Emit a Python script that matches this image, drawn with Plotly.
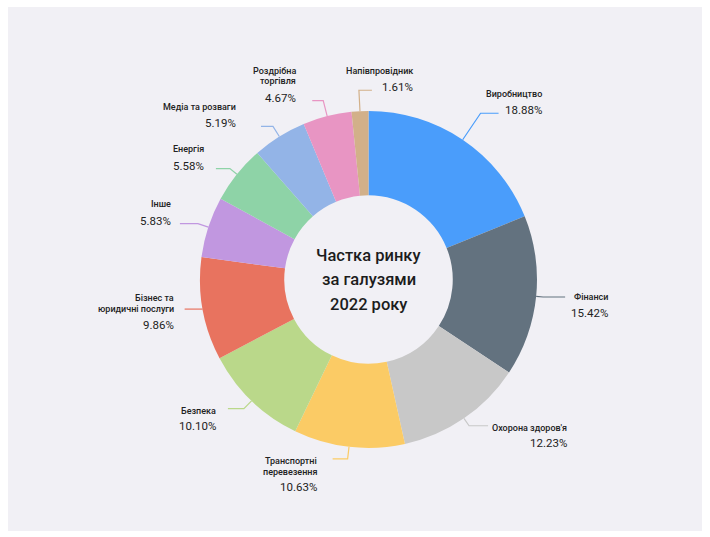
import math
import plotly.graph_objects as go

# ---- data ----
categories = [["Виробництво"], ["Фінанси"], ["Охорона здоров'я"], ["Транспортні", "перевезення"],
              ["Безпека"], ["Бізнес та", "юридичні послуги"], ["Інше"], ["Енергія"],
              ["Медіа та розваги"], ["Роздрібна", "торгівля"], ["Напівпровідник"]]
values = [18.88, 15.42, 12.23, 10.63, 10.10, 9.86, 5.83, 5.58, 5.19, 4.67, 1.61]
value_labels = ["18.88%", "15.42%", "12.23%", "10.63%", "10.10%", "9.86%",
                "5.83%", "5.58%", "5.19%", "4.67%", "1.61%"]
colors = ["#4A9DFB", "#63727F", "#C8C8C8", "#FBCB65", "#BAD88A", "#E8735F",
          "#C197E0", "#8ED3A7", "#93B4E7", "#E895C3", "#D2B089"]
center_title = ["Частка ринку", "за галузями", "2022 року"]

# ---- layout settings (pixels) ----
W, H = 710, 537
CX, CY, R = 368.5, 279.5, 168.5
HOLE = 0.5
FONT = "Roboto"
NAME_SIZE, PCT_SIZE = 9, 11.5
# per-label leader: radial extension, horizontal length, direction (+1 right / -1 left), text gap
leader = [(32, 18, 1, 8), (7, 22, 1, 10), (9, 19, 1, 9), (12, 15, -1, 14), (11, 16, -1, 10),
          (0, 18, -1, 9), (11, 18, -1, 7), (9, 14, -1, 10), (12, 12, -1, 23), (16, 11, -1, 14),
          (21, 13, 1, 12)]


def px(x):
    return x / W


def py(y):
    return 1 - y / H


def est_width(text, size):
    w = 0.0
    for ch in text:
        if ch.isdigit():
            w += 0.562
        elif ch == ".":
            w += 0.27
        elif ch == "%":
            w += 0.73
        elif ch == " ":
            w += 0.25
        elif ch in "'’":
            w += 0.2
        elif ch.isupper():
            w += 0.64
        else:
            w += 0.53
    return w * size


fig = go.Figure()
fig.add_trace(go.Pie(
    values=values, labels=[" ".join(c) for c in categories], hole=HOLE, sort=False,
    direction="clockwise", rotation=0, marker=dict(colors=colors, line=dict(width=0)),
    textinfo="none", hoverinfo="label+percent", showlegend=False,
    domain=dict(x=[px(CX - R), px(CX + R)], y=[py(CY + R), py(CY - R)]),
))

shapes = [dict(type="rect", xref="paper", yref="paper", x0=px(8), x1=px(702),
               y0=py(531), y1=py(7), fillcolor="#F1F0F5", line=dict(width=0), layer="below")]
annotations = []


def add_text(x, y, text, size, anchor, weight=400, color="#222222"):
    annotations.append(dict(x=px(x), y=py(y), xref="paper", yref="paper", text=text,
                            showarrow=False, xanchor=anchor, yanchor="middle",
                            font=dict(family=FONT, size=size, color=color, weight=weight)))


total = sum(values)
cum = 0.0
for i, v in enumerate(values):
    mid = (cum + v / 2) / total * 2 * math.pi
    cum += v
    s, c = math.sin(mid), math.cos(mid)
    x0, y0 = CX + R * s, CY - R * c
    ext, hl, d, gap = leader[i]
    x1, y1 = CX + (R + ext) * s, CY - (R + ext) * c
    x2 = x1 + d * hl
    shapes.append(dict(type="path", xref="paper", yref="paper",
                       path=f"M {px(x0)},{py(y0)} L {px(x1)},{py(y1)} L {px(x2)},{py(y1)}",
                       line=dict(color=colors[i], width=1.2)))
    names = categories[i]
    n = len(names)
    # vertical positions of each text line
    if y1 < CY - 40:      # upper: percentage at leader level, names above
        pct_y = y1 - 3
        name_ys = [pct_y - 16.5 - 10.5 * (n - 1 - k) for k in range(n)]
        level_text = value_labels[i]
        level_size = PCT_SIZE
    elif y1 > CY + 40:    # lower: first name at leader level
        name_ys = [y1 + 2 + 11 * k for k in range(n)]
        pct_y = name_ys[-1] + 15.5
        level_text = names[0]
        level_size = NAME_SIZE
    else:                 # middle: last name line at leader level
        name_ys = [y1 - 11 * (n - 1 - k) for k in range(n)]
        pct_y = y1 + 16
        level_text = names[-1]
        level_size = NAME_SIZE
    if d > 0:
        xr = x2 + gap + est_width(level_text, level_size)
    else:
        xr = x2 - gap
    for nm, ny in zip(names, name_ys):
        add_text(xr, ny, nm, NAME_SIZE, "right", weight=500)
    add_text(xr, pct_y, value_labels[i], PCT_SIZE, "right")

for k, line in enumerate(center_title):
    add_text(CX, CY - 24.5 + 24.5 * k, line, 16.5, "center", weight=500, color="#1c1c1c")

fig.update_layout(width=W, height=H, margin=dict(l=0, r=0, t=0, b=0),
                  paper_bgcolor="white", plot_bgcolor="white",
                  shapes=shapes, annotations=annotations)
fig.write_html("out.html")
